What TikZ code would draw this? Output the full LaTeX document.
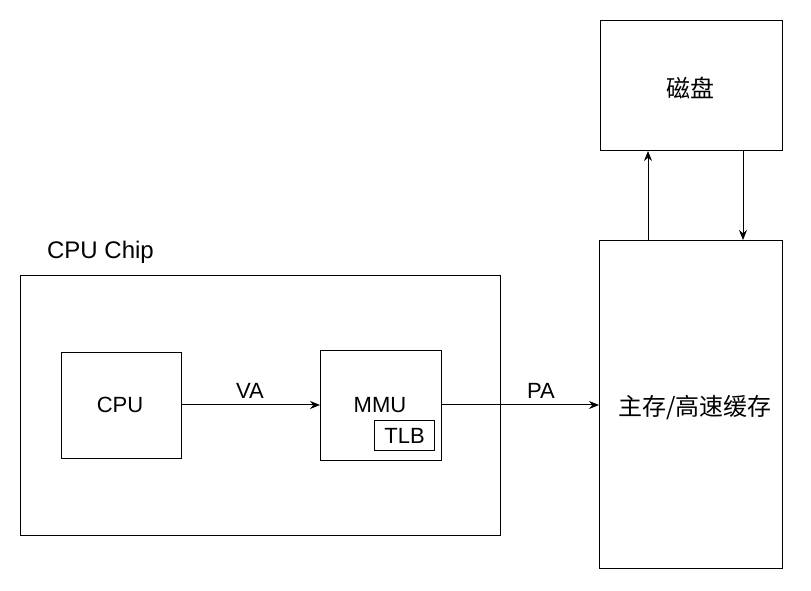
\documentclass[tikz,border=0pt]{standalone}
\usepackage{fontspec}
\setmainfont{Liberation Sans}
\newfontfamily\cjk{Noto Sans CJK SC}
\usetikzlibrary{arrows.meta}
\begin{document}
\begin{tikzpicture}[x=0.75pt,y=-0.75pt,
  box/.style={draw=black,line width=0.75pt,inner sep=0pt,anchor=north west},
  lbl/.style={font=\fontsize{16.5}{18}\selectfont,inner sep=0pt},
  cjklbl/.style={font=\cjk\fontsize{18}{20}\selectfont,inner sep=0pt},
  conn/.style={line width=0.75pt,-{Stealth[length=7.5pt,width=6pt]}}]
\useasboundingbox (0,0) rectangle (811,591);
% boxes
\node[box,minimum width=480*0.75pt,minimum height=260*0.75pt] (chip) at (20,275) {};
\node[box,minimum width=120*0.75pt,minimum height=106*0.75pt] (cpu) at (61,352) {};
\node[box,minimum width=121*0.75pt,minimum height=110*0.75pt] (mmu) at (320,350) {};
\node[box,minimum width=60*0.75pt,minimum height=30*0.75pt] (tlb) at (374,420) {};
\node[box,minimum width=183*0.75pt,minimum height=328*0.75pt] (main) at (599,240) {};
\node[box,minimum width=182*0.75pt,minimum height=130*0.75pt] (disk) at (600,20) {};
% texts
\node[lbl,font=\fontsize{18}{20}\selectfont] (chiplbl) at (100.5,252) {CPU Chip};
\node[lbl] (cputxt) at (120,405) {CPU};
\node[lbl] (mmutxt) at (380,405) {MMU};
\node[lbl] (tlbtxt) at (tlb.center) {TLB};
\node[cjklbl] (maintxt) at (695,408) {主存/高速缓存};
\node[cjklbl] (disktxt) at (690,88) {磁盘};
% connectors
\coordinate (vay) at (0,405);
\draw[conn] (cpu.east |- vay) -- (mmu.west |- vay);
\node[lbl] (va) at (250,391) {VA};
\draw[conn] (mmu.east |- vay) -- (main.west |- vay);
\node[lbl] (pa) at (541,391) {PA};
\coordinate (upx) at (648,0);
\coordinate (dnx) at (743,0);
\draw[conn] (main.north -| upx) -- (disk.south -| upx);
\draw[conn] (disk.south -| dnx) -- (main.north -| dnx);
\end{tikzpicture}
\end{document}
